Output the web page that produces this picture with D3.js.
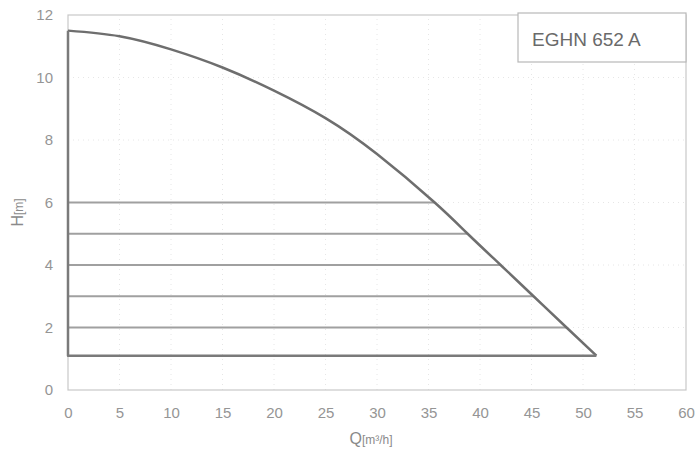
<!DOCTYPE html>
<html>
<head>
<meta charset="utf-8">
<script src="https://cdn.jsdelivr.net/npm/d3@7"></script>
<style>
  body { margin: 0; background: #fff; }
  svg { display: block; font-family: "Liberation Sans", sans-serif; }
</style>
</head>
<body>
<div id="chart"></div>
<script>
// pump curve (Q in m3/h, H in m)
const curveQ = [0, 5, 10, 15, 20, 25, 30, 35.6, 38.8, 42.0, 45.2, 48.4, 51.3];
const curveH = [11.5, 11.32, 10.9, 10.32, 9.58, 8.7, 7.55, 6, 5, 4, 3, 2, 1.1];
const levels = [2, 3, 4, 5, 6];
const minHead = 1.1;
const xTicks = [0, 5, 10, 15, 20, 25, 30, 35, 40, 45, 50, 55, 60];
const yTicks = [0, 2, 4, 6, 8, 10, 12];
const title = "EGHN 652 A";

const width = 696, height = 452;
const margin = { top: 15, right: 10, bottom: 62, left: 68 };

const x = d3.scaleLinear().domain([0, 60]).range([margin.left, width - margin.right]);
const y = d3.scaleLinear().domain([0, 12]).range([height - margin.bottom, margin.top]);

const svg = d3.select("#chart").append("svg")
  .attr("width", width).attr("height", height);

// faint dotted grid
const grid = svg.append("g").attr("stroke", "#e6e6e6").attr("stroke-dasharray", "1 4");
grid.selectAll(".gv")
  .data(xTicks.slice(1, -1))
  .join("line")
  .attr("x1", (d) => x(d)).attr("x2", (d) => x(d))
  .attr("y1", y(0)).attr("y2", y(12));
grid.selectAll(".gh")
  .data(yTicks.slice(1, -1))
  .join("line")
  .attr("x1", x(0)).attr("x2", x(60))
  .attr("y1", (d) => y(d)).attr("y2", (d) => y(d));

// frame
svg.append("rect")
  .attr("x", x(0)).attr("y", y(12))
  .attr("width", x(60) - x(0)).attr("height", y(0) - y(12))
  .attr("fill", "none").attr("stroke", "#c8c8c8").attr("stroke-width", 1.2);

// axes, labels only
const gx = svg.append("g")
  .attr("transform", `translate(0,${y(0)})`)
  .call(d3.axisBottom(x).tickValues(xTicks).tickSize(0).tickPadding(17));
const gy = svg.append("g")
  .attr("transform", `translate(${x(0)},0)`)
  .call(d3.axisLeft(y).tickValues(yTicks).tickSize(0).tickPadding(15));
[gx, gy].forEach((g) => {
  g.select(".domain").remove();
  g.selectAll("text")
    .attr("fill", "#959595")
    .attr("font-family", "Liberation Sans, sans-serif")
    .attr("font-size", 15);
});

// horizontal head levels up to the curve
const points = curveQ.map((q, i) => [q, curveH[i]]);
const qAt = (h) => {
  for (let i = 1; i < points.length; i++) {
    const [q0, h0] = points[i - 1], [q1, h1] = points[i];
    if (h <= h0 && h >= h1) return q0 + (q1 - q0) * (h0 - h) / (h0 - h1);
  }
  return 0;
};
svg.append("g").selectAll("line")
  .data(levels)
  .join("line")
  .attr("x1", x(0)).attr("x2", (d) => x(qAt(d)))
  .attr("y1", (d) => y(d)).attr("y2", (d) => y(d))
  .attr("stroke", "#a0a0a0").attr("stroke-width", 2);

// operating area outline
const line = d3.line()
  .x((d) => x(d[0]))
  .y((d) => y(d[1]))
  .curve(d3.curveNatural);

svg.append("path")
  .attr("d", line(points))
  .attr("fill", "none").attr("stroke", "#6e6e6e").attr("stroke-width", 2.5);

svg.append("path")
  .attr("d", d3.line()([
    [x(0), y(curveH[0])],
    [x(0), y(minHead)],
    [x(curveQ[curveQ.length - 1]), y(minHead)],
  ]))
  .attr("fill", "none").attr("stroke", "#7a7a7a").attr("stroke-width", 2.5)
  .attr("stroke-linejoin", "round");

// title box
svg.append("rect")
  .attr("x", 518).attr("y", 13).attr("width", 168).attr("height", 49)
  .attr("fill", "#fff").attr("stroke", "#b8b8b8").attr("stroke-width", 1.2);
svg.append("text")
  .attr("x", 532).attr("y", 46)
  .attr("fill", "#6a6a6a").attr("font-size", 19)
  .text(title);

// axis titles
const xt = svg.append("text")
  .attr("x", x(30) - 6).attr("y", 444)
  .attr("text-anchor", "middle").attr("fill", "#8a8a8a");
xt.append("tspan").attr("font-size", 16).text("Q");
xt.append("tspan").attr("font-size", 12).text("[m³/h]");

const yt = svg.append("text")
  .attr("transform", `translate(23,${y(6) + 10}) rotate(-90)`)
  .attr("text-anchor", "middle").attr("fill", "#8a8a8a");
yt.append("tspan").attr("font-size", 16).text("H");
yt.append("tspan").attr("font-size", 12).text("[m]");
</script>
</body>
</html>
